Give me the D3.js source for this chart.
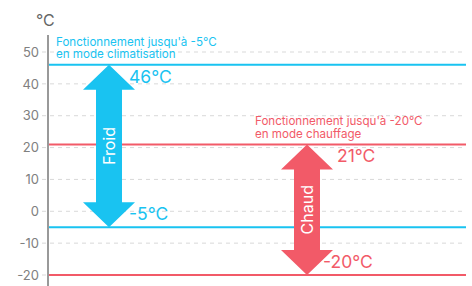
<!DOCTYPE html>
<html>
  <head>
    <meta charset="utf-8">
    <title>Plage de fonctionnement</title>
    <style>
      body { margin: 0; background: #fff; }
      text { font-family: Inter, "Noto Sans", sans-serif; }
    </style>
  </head>
  <body>
    <script src="https://d3js.org/d3.v7.min.js"></script>
    <svg id="chart" width="472" height="286"></svg>
    <script>
      // axis ticks
      const ticks = [50, 40, 30, 20, 10, 0, -10, -20]

      // operating ranges
      const modes = ['Froid', 'Chaud']
      const maxTemps = [46, 21]
      const minTemps = [-5, -20]
      const colors = ['#19c3f1', '#f25a68']
      const notes = [
        ['Fonctionnement jusqu\'à -5°C', 'en mode climatisation'],
        ['Fonctionnement jusqu\'à -20°C', 'en mode chauffage']
      ]

      const svg = d3.select('#chart')
      const left = 48, right = 466

      const y = d3.scaleLinear().domain([-20, 50]).range([275, 52])
      const x = d3.scalePoint().domain(modes).range([109, 307])

      // dashed grid
      svg.append('g')
        .selectAll('line')
        .data(ticks)
        .join('line')
          .attr('x1', 42)
          .attr('x2', right)
          .attr('y1', d => y(d))
          .attr('y2', d => y(d))
          .attr('stroke', '#d9d9d9')
          .attr('stroke-width', 1)
          .attr('stroke-dasharray', '4,4')

      // tick labels
      svg.append('g')
        .selectAll('text')
        .data(ticks)
        .join('text')
          .attr('x', 39)
          .attr('y', d => y(d))
          .attr('dy', '0.36em')
          .attr('text-anchor', 'end')
          .attr('font-size', 13)
          .attr('fill', '#808080')
          .text(d => d)

      // axis line + unit
      svg.append('line')
        .attr('x1', left).attr('x2', left)
        .attr('y1', 35).attr('y2', 286)
        .attr('stroke', '#777').attr('stroke-width', 1.5)

      svg.append('text')
        .attr('x', 36).attr('y', 26)
        .attr('font-size', 16)
        .attr('fill', '#666')
        .text('°C')

      // limit lines
      const limits = modes.flatMap((m, i) => [
        { v: maxTemps[i], c: colors[i] },
        { v: minTemps[i], c: colors[i] }
      ])
      svg.append('g')
        .selectAll('line')
        .data(limits)
        .join('line')
          .attr('x1', left + 1)
          .attr('x2', right)
          .attr('y1', d => y(d.v))
          .attr('y2', d => y(d.v))
          .attr('stroke', d => d.c)
          .attr('stroke-width', 2)

      // notes above the upper line
      modes.forEach((m, i) => {
        const tx = i === 0 ? 56 : 255
        const t = svg.append('text')
          .attr('x', tx)
          .attr('y', y(maxTemps[i]) - 19)
          .attr('font-size', 11.6)
          .attr('fill', colors[i])
        notes[i].forEach((line, k) => {
          t.append('tspan')
            .attr('x', tx)
            .attr('dy', k === 0 ? 0 : 12.5)
            .text(line)
        })
      })

      // double arrows
      const headW = 26, headH = 25, shaftW = 13
      function arrowPath(cx, top, bottom) {
        return [
          [cx, top],
          [cx + headW, top + headH],
          [cx + shaftW, top + headH],
          [cx + shaftW, bottom - headH],
          [cx + headW, bottom - headH],
          [cx, bottom],
          [cx - headW, bottom - headH],
          [cx - shaftW, bottom - headH],
          [cx - shaftW, top + headH],
          [cx - headW, top + headH]
        ].map(p => p.join(',')).join(' ')
      }

      svg.append('g')
        .selectAll('polygon')
        .data(modes)
        .join('polygon')
          .attr('points', (d, i) => arrowPath(x(d), y(maxTemps[i]), y(minTemps[i])))
          .attr('fill', (d, i) => colors[i])

      // arrow captions
      svg.append('g')
        .selectAll('text')
        .data(modes)
        .join('text')
          .attr('transform', (d, i) => `translate(${x(d)},${(y(maxTemps[i]) + y(minTemps[i])) / 2}) rotate(-90)`)
          .attr('text-anchor', 'middle')
          .attr('dy', '0.36em')
          .attr('font-size', 16)
          .attr('fill', '#fff')
          .text(d => d)

      // value labels
      const valueLabels = modes.flatMap((m, i) => [
        { m, v: maxTemps[i], c: colors[i], dx: i === 0 ? 20 : 30, dy: 18 },
        { m, v: minTemps[i], c: colors[i], dx: i === 0 ? 20 : 16, dy: -7 }
      ])
      svg.append('g')
        .selectAll('text')
        .data(valueLabels)
        .join('text')
          .attr('x', d => x(d.m) + d.dx)
          .attr('y', d => y(d.v) + d.dy)
          .attr('font-size', 17.5)
          .attr('fill', d => d.c)
          .text(d => `${d.v}°C`)
    </script>
  </body>
</html>
